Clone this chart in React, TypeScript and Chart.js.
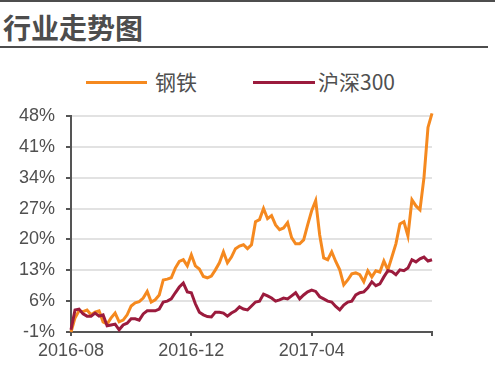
import React, { useEffect, useRef } from "react";
import { Chart, registerables } from "chart.js";

Chart.register(...registerables);

const seriesNames = ["钢铁", "沪深300"];
const seriesColors = ["#F5891F", "#9B1B3D"];

const steel = [
  -1.0, 2.2, 3.8, 3.6, 4.0, 2.9, 3.5, 3.8, 1.3, 0.8,
  2.2, 3.3, 1.3, 1.7, 2.9, 4.9, 5.6, 5.9, 6.7, 8.2,
  5.8, 6.3, 7.4, 10.8, 11.0, 11.3, 13.5, 15.0, 15.4, 14.0,
  16.5, 14.0, 13.3, 11.6, 11.3, 11.7, 13.1, 14.7, 17.2, 14.7,
  16.0, 17.9, 18.5, 18.8, 17.9, 18.8, 24.0, 24.5, 27.0, 24.7,
  25.4, 23.3, 22.2, 22.6, 23.8, 20.4, 19.0, 19.0, 19.9, 23.3,
  26.5, 28.8, 21.0, 15.8, 15.4, 17.2, 15.0, 13.1, 9.7, 10.8,
  12.2, 12.4, 12.0, 10.4, 12.9, 11.5, 12.9, 12.6, 15.1, 13.1,
  16.0, 19.0, 23.5, 24.0, 20.8, 29.0, 27.6, 26.7, 34.0, 45.4,
  48.6,
];

const hs300 = [
  -0.5, 4.0, 4.2, 3.1, 2.6, 2.6, 3.3, 2.6, 2.9, 0.4,
  0.6, 0.8, -0.5, 0.6, 1.0, 2.0, 2.0, 1.7, 3.1, 3.8,
  3.8, 3.8, 4.2, 5.8, 6.0, 6.5, 7.9, 9.2, 10.1, 8.1,
  7.9, 5.4, 3.5, 2.9, 2.5, 2.4, 3.5, 3.5, 3.3, 2.6,
  3.3, 3.8, 4.7, 4.2, 4.0, 4.9, 5.8, 6.0, 7.6, 7.2,
  6.7, 6.0, 6.3, 6.7, 6.5, 7.2, 7.9, 6.5, 7.4, 8.1,
  8.5, 8.2, 7.0, 6.5, 6.0, 5.8, 4.8, 4.0, 5.1, 5.8,
  6.0, 7.4, 7.9, 8.1, 9.0, 10.4, 9.5, 9.9, 11.5, 12.9,
  12.7, 12.0, 13.1, 12.9, 13.5, 15.4, 14.9, 15.6, 16.0, 15.1,
  15.4,
];

const categories = steel.map((_, i) => String(i));
const xTickIndex = [0, 30, 60, 90];
const xTickLabels = ["2016-08", "2016-12", "2017-04", ""];
const yTicks = [-1, 6, 13, 20, 27, 34, 41, 48];

const AXIS = "#555555";
const TEXT = "#505050";

export default function App() {
  const ref = useRef<HTMLCanvasElement | null>(null);

  useEffect(() => {
    if (!ref.current) return;
    const chart = new Chart(ref.current, {
      type: "line",
      data: {
        labels: categories,
        datasets: [
          {
            label: seriesNames[1],
            data: hs300,
            borderColor: seriesColors[1],
            backgroundColor: seriesColors[1],
            borderWidth: 3,
            pointRadius: 0,
            tension: 0,
            clip: false as any,
          },
          {
            label: seriesNames[0],
            data: steel,
            borderColor: seriesColors[0],
            backgroundColor: seriesColors[0],
            borderWidth: 3,
            pointRadius: 0,
            tension: 0,
            clip: false as any,
          },
        ],
      },
      options: {
        animation: false,
        responsive: false,
        maintainAspectRatio: false,
        events: [],
        layout: { padding: { top: 116, right: 63, bottom: 0, left: 0 } },
        plugins: {
          legend: { display: false },
          title: { display: false },
          tooltip: { enabled: false },
        },
        scales: {
          x: {
            type: "category",
            offset: false,
            afterBuildTicks: (scale: any) => {
              scale.ticks = xTickIndex.map((v) => ({ value: v }));
            },
            afterFit: (scale: any) => {
              scale.height = 36;
            },
            grid: {
              display: true,
              drawOnChartArea: false,
              drawTicks: true,
              tickLength: 4,
              tickColor: AXIS,
              tickWidth: 2,
              lineWidth: 2,
              color: AXIS,
            },
            border: { display: true, color: AXIS, width: 2 },
            ticks: {
              autoSkip: false,
              maxRotation: 0,
              minRotation: 0,
              padding: 4,
              color: TEXT,
              font: { family: "'Liberation Sans', Arial, sans-serif", size: 18 },
              callback: (_v: any, idx: number) => xTickLabels[idx],
            },
          },
          y: {
            type: "linear",
            min: -1,
            max: 48,
            afterBuildTicks: (scale: any) => {
              scale.ticks = yTicks.map((v) => ({ value: v }));
            },
            afterFit: (scale: any) => {
              scale.width = 71;
            },
            grid: {
              display: true,
              drawOnChartArea: true,
              drawTicks: true,
              tickLength: 5,
              tickColor: AXIS,
              tickWidth: 2,
              lineWidth: 2,
              color: "#e2e2e2",
            },
            border: { display: true, color: AXIS, width: 2 },
            ticks: {
              padding: 11,
              color: TEXT,
              font: { family: "'Liberation Sans', Arial, sans-serif", size: 18 },
              callback: (v: any) => v + "%",
            },
          },
        },
      },
    });
    return () => chart.destroy();
  }, []);

  const cjk = "'Noto Sans CJK SC', 'Noto Sans', sans-serif";

  return (
    <div
      style={{
        position: "fixed",
        left: 0,
        top: 0,
        width: 495,
        height: 368,
        background: "#ffffff",
        overflow: "hidden",
      }}
    >
      <div style={{ position: "absolute", left: 0, top: 0, width: 495, height: 2, background: "#4d4d4d" }} />
      <div
        style={{
          position: "absolute",
          left: 3,
          top: 13,
          fontFamily: cjk,
          fontWeight: 700,
          fontSize: 28,
          lineHeight: "28px",
          color: "#4d4d4d",
          whiteSpace: "nowrap",
        }}
      >
        行业走势图
      </div>
      <div style={{ position: "absolute", left: 0, top: 46, width: 488, height: 2, background: "#4d4d4d" }} />

      <div style={{ position: "absolute", left: 86, top: 81, width: 61, height: 3, background: seriesColors[0] }} />
      <div
        style={{
          position: "absolute",
          left: 155,
          top: 70,
          fontFamily: cjk,
          fontSize: 21,
          lineHeight: "22px",
          color: TEXT,
          whiteSpace: "nowrap",
        }}
      >
        {seriesNames[0]}
      </div>
      <div style={{ position: "absolute", left: 253, top: 81, width: 62, height: 3, background: seriesColors[1] }} />
      <div
        style={{
          position: "absolute",
          left: 318,
          top: 70,
          fontFamily: cjk,
          fontSize: 21,
          lineHeight: "22px",
          color: TEXT,
          whiteSpace: "nowrap",
        }}
      >
        {seriesNames[1]}
      </div>

      <canvas
        ref={ref}
        width={495}
        height={368}
        style={{ position: "absolute", left: 0, top: 0, width: 495, height: 368 }}
      />
    </div>
  );
}
